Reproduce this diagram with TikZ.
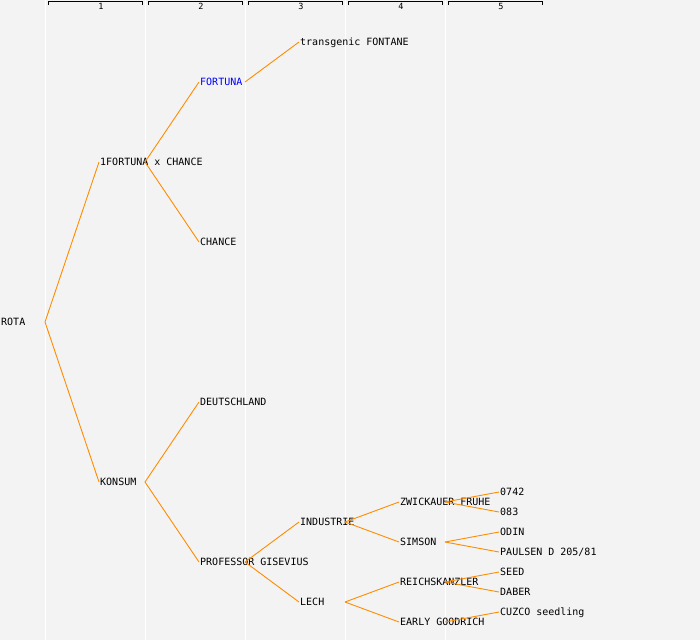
\documentclass[tikz,border=0pt]{standalone}
\usepackage{fontspec}
\setmonofont{DejaVu Sans Mono}
\begin{document}
\begin{tikzpicture}[x=1pt,y=-1pt,
  lbl/.style={anchor=west,inner sep=0pt,inner xsep=1pt,text height=7.3pt,text depth=0pt,font=\ttfamily\fontsize{10}{10}\selectfont},
  colline/.style={draw=white,line width=1pt},
  hdr/.style={draw=black,line width=0.9pt},
  hnum/.style={inner sep=0pt,font=\ttfamily\fontsize{8.5}{8.5}\selectfont}]
\definecolor{bg}{HTML}{F3F3F3}
\definecolor{edgec}{HTML}{FF8C00}
\tikzset{edge/.style={draw=edgec,line width=0.9pt}}
\useasboundingbox (0,0) rectangle (700,640);
\fill[bg] (0,0) rectangle (700,640);
% column lines
\foreach \x in {45,145,245,345,445} \draw[colline] (\x,0) -- (\x,640);
% header brackets
\foreach \i/\x in {1/45,2/145,3/245,4/345,5/445}{
  \draw[hdr] (\x+3,5) -- (\x+3,1.5) -- (\x+97,1.5) -- (\x+97,5);
  \node[hnum] (h\i) at (\x+56,6.5) {\i};
}
% nodes
\node[lbl] (rota) at (0,322) {ROTA};
\node[lbl] (fxc) at (99,162) {1FORTUNA x CHANCE};
\node[lbl] (konsum) at (99,482) {KONSUM};
\node[lbl,text=blue] (fortuna) at (199,82) {FORTUNA};
\node[lbl] (chance) at (199,242) {CHANCE};
\node[lbl] (fontane) at (299,42) {transgenic FONTANE};
\node[lbl] (deutsch) at (199,402) {DEUTSCHLAND};
\node[lbl] (prof) at (199,562) {PROFESSOR GISEVIUS};
\node[lbl] (industrie) at (299,522) {INDUSTRIE};
\node[lbl] (lech) at (299,602) {LECH};
\node[lbl] (zwick) at (399,502) {ZWICKAUER FRUHE};
\node[lbl] (simson) at (399,542) {SIMSON};
\node[lbl] (reich) at (399,582) {REICHSKANZLER};
\node[lbl] (early) at (399,622) {EARLY GOODRICH};
\node[lbl] (o742) at (499,492) {0742};
\node[lbl] (o83) at (499,512) {083};
\node[lbl] (odin) at (499,532) {ODIN};
\node[lbl] (paulsen) at (499,552) {PAULSEN D 205/81};
\node[lbl] (seed) at (499,572) {SEED};
\node[lbl] (daber) at (499,592) {DABER};
\node[lbl] (cuzco) at (499,612) {CUZCO seedling};
% branch points
\coordinate (p-rota) at (45,322);
\coordinate (p-fxc) at (145,162);
\coordinate (p-konsum) at (145,482);
\coordinate (p-fortuna) at (245,82);
\coordinate (p-prof) at (245,562);
\coordinate (p-industrie) at (345,522);
\coordinate (p-lech) at (345,602);
\coordinate (p-zwick) at (445,502);
\coordinate (p-simson) at (445,542);
\coordinate (p-reich) at (445,582);
\coordinate (p-early) at (445,622);
% edges
\draw[edge] (p-rota) -- (fxc.west);
\draw[edge] (p-rota) -- (konsum.west);
\draw[edge] (p-fxc) -- (fortuna.west);
\draw[edge] (p-fxc) -- (chance.west);
\draw[edge] (p-fortuna) -- (fontane.west);
\draw[edge] (p-konsum) -- (deutsch.west);
\draw[edge] (p-konsum) -- (prof.west);
\draw[edge] (p-prof) -- (industrie.west);
\draw[edge] (p-prof) -- (lech.west);
\draw[edge] (p-industrie) -- (zwick.west);
\draw[edge] (p-industrie) -- (simson.west);
\draw[edge] (p-lech) -- (reich.west);
\draw[edge] (p-lech) -- (early.west);
\draw[edge] (p-zwick) -- (o742.west);
\draw[edge] (p-zwick) -- (o83.west);
\draw[edge] (p-simson) -- (odin.west);
\draw[edge] (p-simson) -- (paulsen.west);
\draw[edge] (p-reich) -- (seed.west);
\draw[edge] (p-reich) -- (daber.west);
\draw[edge] (p-early) -- (cuzco.west);
\end{tikzpicture}
\end{document}
